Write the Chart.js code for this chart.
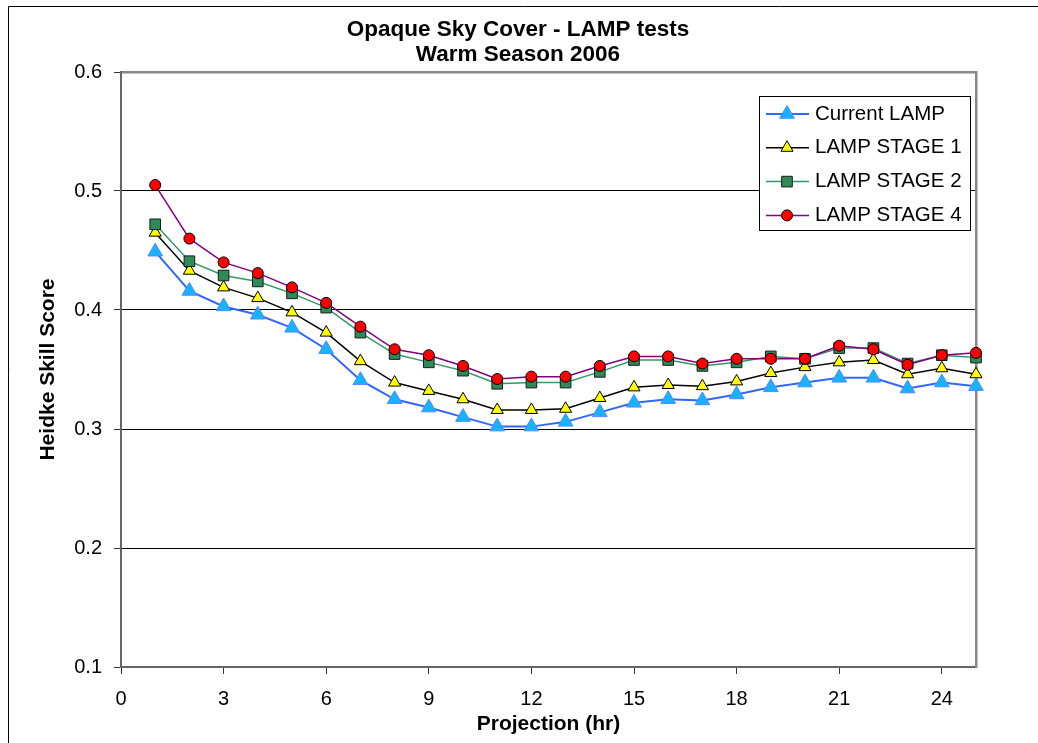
<!DOCTYPE html>
<html>
<head>
<meta charset="utf-8">
<title>Opaque Sky Cover - LAMP tests</title>
<script src="https://cdn.jsdelivr.net/npm/chart.js@4/dist/chart.umd.min.js"></script>
<style>
  html, body { margin: 0; padding: 0; background: #fff; }
  canvas { display: block; }
</style>
</head>
<body>
<canvas id="chart" width="1038" height="743"></canvas>
<script>
// --- Data ---
const titleLines = ["Opaque Sky Cover - LAMP tests", "Warm Season 2006"];
const hours = [1, 2, 3, 4, 5, 6, 7, 8, 9, 10, 11, 12, 13, 14, 15, 16, 17, 18, 19, 20, 21, 22, 23, 24, 25];
const xTicks = [0, 3, 6, 9, 12, 15, 18, 21, 24];
const yTicks = [0.1, 0.2, 0.3, 0.4, 0.5, 0.6];
const yTickLabels = ["0.1", "0.2", "0.3", "0.4", "0.5", "0.6"];
const seriesNames = ["Current LAMP", "LAMP STAGE 1", "LAMP STAGE 2", "LAMP STAGE 4"];

const currentLamp = [0.449, 0.416, 0.403, 0.396, 0.385, 0.367, 0.341, 0.325, 0.318, 0.310, 0.302, 0.302, 0.306,
                     0.314, 0.322, 0.325, 0.324, 0.329, 0.335, 0.339, 0.343, 0.343, 0.334, 0.339, 0.336];
const stage1 = [0.465, 0.433, 0.419, 0.410, 0.398, 0.381, 0.357, 0.339, 0.332, 0.325, 0.316, 0.316, 0.317,
                0.326, 0.335, 0.337, 0.336, 0.340, 0.347, 0.352, 0.356, 0.358, 0.346, 0.351, 0.346];
const stage2 = [0.472, 0.441, 0.429, 0.424, 0.414, 0.402, 0.381, 0.363, 0.356, 0.349, 0.338, 0.339, 0.339,
                0.348, 0.358, 0.358, 0.353, 0.356, 0.361, 0.359, 0.368, 0.368, 0.355, 0.362, 0.360];
const stage4 = [0.505, 0.460, 0.440, 0.431, 0.419, 0.406, 0.386, 0.367, 0.362, 0.353, 0.342, 0.344, 0.344,
                0.353, 0.361, 0.361, 0.355, 0.359, 0.359, 0.359, 0.370, 0.367, 0.354, 0.362, 0.364];

const FONT = "'Liberation Sans', Arial, sans-serif";

function points(values) {
  return hours.map((h, i) => ({ x: h, y: values[i] }));
}

// --- Series styles ---
const styles = [
  { line: "#3366ff", lineWidth: 2,   fill: "#19b2ff", border: "#4d8cff", shape: "triangle", radius: 8.5 },
  { line: "#000000", lineWidth: 1.5, fill: "#ffff00", border: "#000000", shape: "triangle", radius: 7 },
  { line: "#339966", lineWidth: 1.5, fill: "#2e8b57", border: "#1a1a1a", shape: "rect",     radius: 7.5 },
  { line: "#800080", lineWidth: 1.5, fill: "#ff0000", border: "#000000", shape: "circle",   radius: 5.5 }
];
const seriesValues = [currentLamp, stage1, stage2, stage4];

const datasets = seriesValues.map((vals, i) => ({
  label: seriesNames[i],
  data: points(vals),
  borderColor: styles[i].line,
  borderWidth: styles[i].lineWidth,
  backgroundColor: styles[i].fill,
  pointStyle: styles[i].shape,
  pointRadius: styles[i].radius,
  pointBackgroundColor: styles[i].fill,
  pointBorderColor: styles[i].border,
  pointBorderWidth: 1,
  tension: 0,
  fill: false,
  clip: false,
  order: 3 - i,          // later series drawn on top
  xAxisID: "x",
  yAxisID: "y"
}));

// --- Outer frame (cropped chart border) ---
const framePlugin = {
  id: "frame",
  beforeDraw(chart) {
    const ctx = chart.ctx;
    ctx.save();
    ctx.strokeStyle = "#000";
    ctx.lineWidth = 1;
    ctx.beginPath();
    ctx.moveTo(8.5, chart.height);
    ctx.lineTo(8.5, 6.5);
    ctx.lineTo(chart.width, 6.5);
    ctx.stroke();
    ctx.restore();
  }
};

// --- Boxed legend inside the plot ---
const legendPlugin = {
  id: "boxLegend",
  afterDraw(chart) {
    const ctx = chart.ctx;
    const left = 759.5, top = 96.5, right = 970.5, bottom = 230.5;
    ctx.save();
    ctx.fillStyle = "#fff";
    ctx.fillRect(left, top, right - left, bottom - top);
    ctx.strokeStyle = "#000";
    ctx.lineWidth = 1;
    ctx.strokeRect(left, top, right - left, bottom - top);

    chart.data.datasets.forEach((ds, i) => {
      const y = 114 + i * 33.8;
      ctx.strokeStyle = ds.borderColor;
      ctx.lineWidth = ds.borderWidth;
      ctx.beginPath();
      ctx.moveTo(766, y);
      ctx.lineTo(809, y);
      ctx.stroke();

      ctx.fillStyle = ds.pointBackgroundColor;
      ctx.strokeStyle = ds.pointBorderColor;
      ctx.lineWidth = ds.pointBorderWidth;
      Chart.helpers.drawPoint(ctx, {
        pointStyle: ds.pointStyle,
        radius: ds.pointRadius,
        rotation: 0,
        borderWidth: ds.pointBorderWidth
      }, 787, y);

      ctx.fillStyle = "#000";
      ctx.font = "20.5px " + FONT;
      ctx.textAlign = "left";
      ctx.textBaseline = "middle";
      ctx.fillText(ds.label, 815, y);
    });
    ctx.restore();
  }
};

new Chart(document.getElementById("chart"), {
  type: "line",
  data: { datasets },
  plugins: [framePlugin, legendPlugin],
  options: {
    responsive: false,
    animation: false,
    devicePixelRatio: 1,
    events: [],
    layout: { padding: { left: 0, right: 2, top: 0, bottom: 0 } },
    plugins: {
      legend: { display: false },
      tooltip: { enabled: false },
      title: {
        display: true,
        text: titleLines,
        color: "#000",
        font: { family: FONT, size: 22.5, weight: "bold", lineHeight: 1.13 },
        padding: { top: 16.8, bottom: 4.35 }
      }
    },
    scales: {
      x: {
        type: "linear",
        position: "bottom",
        min: 0,
        max: 25,
        afterBuildTicks: s => { s.ticks = xTicks.map(v => ({ value: v })); },
        afterFit: s => { s.height = 76; },
        grid: { drawOnChartArea: false, drawTicks: true, tickLength: 7, tickColor: "#333", tickWidth: 1 },
        border: { color: "#666", width: 2 },
        ticks: { color: "#000", font: { family: FONT, size: 20 }, padding: 13, maxRotation: 0, autoSkip: false },
        title: {
          display: true,
          text: "Projection (hr)",
          color: "#000",
          font: { family: FONT, size: 21, weight: "bold" },
          padding: { top: 0, bottom: 6.2 }
        }
      },
      x2: {
        type: "linear",
        position: "top",
        min: 0,
        max: 1,
        afterFit: s => { s.height = 0; },
        grid: { drawOnChartArea: false, drawTicks: false },
        border: { color: "#888", width: 2.5 },
        ticks: { display: false }
      },
      y: {
        type: "linear",
        position: "left",
        min: 0.1,
        max: 0.6,
        afterBuildTicks: s => { s.ticks = yTicks.map(v => ({ value: v })); },
        afterFit: s => { s.width = 121; },
        grid: {
          color: c => (c.index > 0 && c.index < yTicks.length - 1) ? "#000" : "rgba(0,0,0,0)",
          lineWidth: 1,
          drawTicks: true,
          tickLength: 7,
          tickColor: "#333",
          tickWidth: 1
        },
        border: { color: "#666", width: 2 },
        ticks: {
          color: "#000",
          font: { family: FONT, size: 20 },
          padding: 12,
          callback: (v, i) => yTickLabels[i]
        },
        title: {
          display: true,
          text: "Heidke Skill Score",
          color: "#000",
          font: { family: FONT, size: 21, weight: "bold" },
          padding: { top: 36, bottom: 0 }
        }
      },
      y2: {
        type: "linear",
        position: "right",
        min: 0,
        max: 1,
        afterFit: s => { s.width = 60; },
        grid: { drawOnChartArea: false, drawTicks: false },
        border: { color: "#888", width: 2.5 },
        ticks: { display: false }
      }
    }
  }
});
</script>
</body>
</html>
